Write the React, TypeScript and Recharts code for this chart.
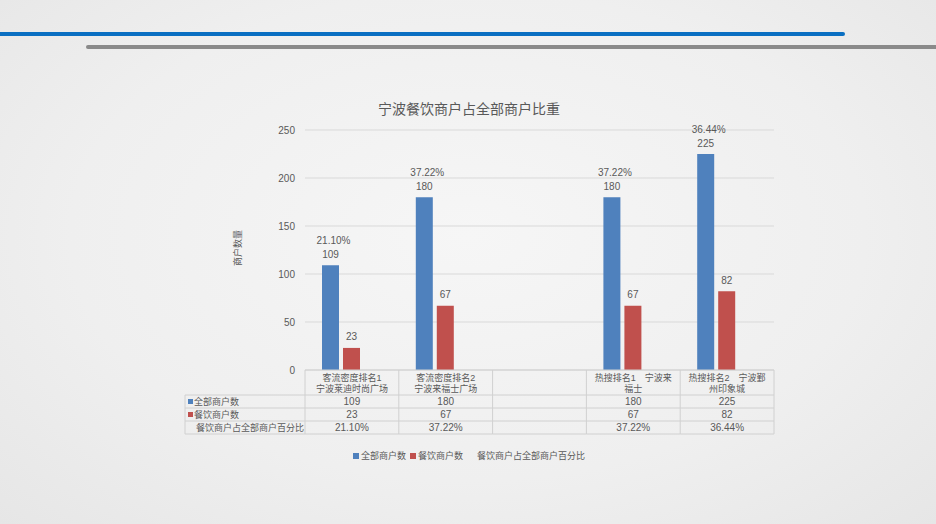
import { BarChart, Bar, XAxis, YAxis, CartesianGrid, LabelList } from 'recharts';

// two-line category labels, the way they wrap in the data table header
const CATEGORY_LINES: string[][] = [
  ['客流密度排名1', '宁波莱迪时尚广场'],
  ['客流密度排名2', '宁波来福士广场'],
  ['', ''],
  ['热搜排名1　宁波来', '福士'],
  ['热搜排名2　宁波鄞', '州印象城'],
];
const ALL_SHOPS: Array<number | null> = [109, 180, null, 180, 225];
const FOOD_SHOPS: Array<number | null> = [23, 67, null, 67, 82];
const FOOD_SHARE: Array<number | null> = [21.1, 37.22, null, 37.22, 36.44];
const Y_TICKS = [0, 50, 100, 150, 200, 250];
const SERIES_NAMES = ['全部商户数', '餐饮商户数', '餐饮商户占全部商户百分比'];

const BLUE = '#4f81bd';
const RED = '#c0504d';
const TEXT = '#595959';
const GRID = '#d9d9d9';
const TABLE_LINE = '#d0d0d0';
const FONT = '"Liberation Sans", "Noto Sans CJK SC", sans-serif';

const W = 936;
const H = 524;
const MARGIN = { top: 130, right: 162, bottom: 84, left: 265 };
const Y_AXIS_W = 40;
const X_AXIS_H = 70;
const PLOT_LEFT = MARGIN.left + Y_AXIS_W;
const PLOT_BOTTOM = H - MARGIN.bottom - X_AXIS_H;
const COL_W = (W - MARGIN.right - PLOT_LEFT) / CATEGORY_LINES.length;
const HEAD_H = 25;
const ROW_H = 13;
const ROW_HEAD_LEFT = 185;

const data = CATEGORY_LINES.map((lines, i) => ({
  name: lines.join(' '),
  all: ALL_SHOPS[i],
  food: FOOD_SHOPS[i],
  share: FOOD_SHARE[i],
}));

const fmtNum = (v: number | null | undefined) => (v == null ? '' : String(v));
const fmtPct = (v: number | null | undefined) => (v == null ? '' : `${Number(v).toFixed(2)}%`);

function TableTick(props: any) {
  const { x, payload } = props;
  const i: number = payload.index;
  const left = x - COL_W / 2;
  const right = x + COL_W / 2;
  const top = PLOT_BOTTOM;
  const bodyTop = top + HEAD_H;
  const bottom = bodyTop + ROW_H * 3;
  const cells = [fmtNum(ALL_SHOPS[i]), fmtNum(FOOD_SHOPS[i]), fmtPct(FOOD_SHARE[i])];
  const rowY = (r: number) => bodyTop + ROW_H * r + ROW_H / 2;
  return (
    <g fontFamily={FONT} fontSize={9} fill={TEXT}>
      {i === 0 && <line x1={left} x2={left} y1={top} y2={bottom} stroke={TABLE_LINE} />}
      <line x1={right} x2={right} y1={top} y2={bottom} stroke={TABLE_LINE} />
      {[0, 1, 2, 3].map((r) => (
        <line key={r} x1={left} x2={right} y1={bodyTop + ROW_H * r} y2={bodyTop + ROW_H * r} stroke={TABLE_LINE} />
      ))}
      <text x={x} y={top + 8} textAnchor="middle" dominantBaseline="central" fill={TEXT}>
        {CATEGORY_LINES[i][0]}
      </text>
      <text x={x} y={top + 19} textAnchor="middle" dominantBaseline="central" fill={TEXT}>
        {CATEGORY_LINES[i][1]}
      </text>
      {cells.map((c, r) => (
        <text key={r} x={x} y={rowY(r)} textAnchor="middle" dominantBaseline="central" fill={TEXT} fontSize={10}>
          {c}
        </text>
      ))}
      {i === 0 && (
        <g>
          <line x1={ROW_HEAD_LEFT} x2={ROW_HEAD_LEFT} y1={bodyTop} y2={bottom} stroke={TABLE_LINE} />
          {[0, 1, 2, 3].map((r) => (
            <line key={r} x1={ROW_HEAD_LEFT} x2={left} y1={bodyTop + ROW_H * r} y2={bodyTop + ROW_H * r} stroke={TABLE_LINE} />
          ))}
          <rect x={ROW_HEAD_LEFT + 3} y={rowY(0) - 2.5} width={5} height={5} fill={BLUE} />
          <rect x={ROW_HEAD_LEFT + 3} y={rowY(1) - 2.5} width={5} height={5} fill={RED} />
          <text x={ROW_HEAD_LEFT + 9} y={rowY(0)} dominantBaseline="central" fill={TEXT}>{SERIES_NAMES[0]}</text>
          <text x={ROW_HEAD_LEFT + 9} y={rowY(1)} dominantBaseline="central" fill={TEXT}>{SERIES_NAMES[1]}</text>
          <text x={ROW_HEAD_LEFT + 11} y={rowY(2)} dominantBaseline="central" fill={TEXT}>{SERIES_NAMES[2]}</text>
        </g>
      )}
    </g>
  );
}

function ValueLabel(props: any) {
  const { x, y, width, value } = props;
  if (value == null) return null;
  return (
    <text x={x + width / 2} y={y - 11} textAnchor="middle" dominantBaseline="central" fill={TEXT} fontFamily={FONT} fontSize={10}>
      {fmtNum(value)}
    </text>
  );
}

function ShareLabel(props: any) {
  const { x, y, width, value } = props;
  if (value == null) return null;
  return (
    <text x={x + width / 2 + 3} y={y - 25} textAnchor="middle" dominantBaseline="central" fill={TEXT} fontFamily={FONT} fontSize={10}>
      {fmtPct(value)}
    </text>
  );
}

function ChartLegend() {
  const item = { display: 'flex', alignItems: 'center', gap: 2 } as const;
  const box = (c: string) => ({ width: 6, height: 6, background: c, display: 'inline-block' });
  return (
    <div
      style={{
        position: 'absolute', top: 449, left: 353, display: 'flex',
        gap: 4, fontFamily: FONT, fontSize: 9, color: TEXT,
      }}
    >
      <span style={item}><i style={box(BLUE)} />{SERIES_NAMES[0]}</span>
      <span style={item}><i style={box(RED)} />{SERIES_NAMES[1]}</span>
      <span style={{ ...item, marginLeft: 10 }}>{SERIES_NAMES[2]}</span>
    </div>
  );
}

export default function App() {
  return (
    <div
      style={{
        position: 'relative', width: W, height: H, overflow: 'hidden',
        background: 'radial-gradient(ellipse at 50% 45%, #f6f6f6 0%, #efefef 60%, #e6e6e6 100%)',
      }}
    >
      <style>{'body{margin:0}'}</style>
      {/* header rules */}
      <div style={{ position: 'absolute', left: 0, top: 32, width: 845, height: 4, background: '#0a6fc2', borderRadius: '0 2px 2px 0' }} />
      <div style={{ position: 'absolute', left: 86, top: 45, width: 850, height: 4, background: '#8a8a8a', borderRadius: '2px 0 0 2px' }} />

      <div
        style={{
          position: 'absolute', top: 98, left: 369, width: 200, textAlign: 'center',
          fontFamily: FONT, fontSize: 14, color: TEXT,
        }}
      >
        宁波餐饮商户占全部商户比重
      </div>
      <div
        style={{
          position: 'absolute', left: 237, top: 248, transform: 'translate(-50%, -50%) rotate(-90deg)',
          fontFamily: FONT, fontSize: 9, color: TEXT, whiteSpace: 'nowrap',
        }}
      >
        商户数量
      </div>

      <div style={{ position: 'absolute', left: 0, top: 0 }}>
        <BarChart width={W} height={H} data={data} margin={MARGIN} barSize={17} barGap={4}>
          <CartesianGrid vertical={false} stroke={GRID} />
          <XAxis
            dataKey="name"
            interval={0}
            height={X_AXIS_H}
            tickLine={false}
            axisLine={{ stroke: TABLE_LINE }}
            tick={(p: any) => <TableTick {...p} />}
          />
          <YAxis
            width={Y_AXIS_W}
            domain={[0, 250]}
            ticks={Y_TICKS}
            axisLine={false}
            tickLine={false}
            tickMargin={4}
            tick={{ fill: TEXT, fontSize: 10, fontFamily: FONT }}
          />
          <Bar dataKey="all" fill={BLUE} isAnimationActive={false}>
            <LabelList dataKey="all" content={(p: any) => <ValueLabel {...p} />} />
            <LabelList dataKey="share" content={(p: any) => <ShareLabel {...p} />} />
          </Bar>
          <Bar dataKey="food" fill={RED} isAnimationActive={false}>
            <LabelList dataKey="food" content={(p: any) => <ValueLabel {...p} />} />
          </Bar>
          {/* percentage series: takes its slot in the group but has no visible bar */}
          <Bar dataKey="share" fill="transparent" isAnimationActive={false} />
        </BarChart>
      </div>
      <ChartLegend />
    </div>
  );
}
